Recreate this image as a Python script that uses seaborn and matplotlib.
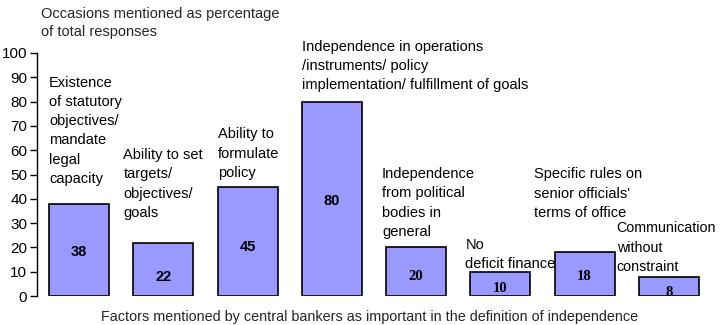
import matplotlib
matplotlib.use("Agg")
import matplotlib.pyplot as plt
import seaborn as sns
import pandas as pd

categories = [
    "Existence\nof statutory\nobjectives/\nmandate\nlegal\ncapacity",
    "Ability to set\ntargets/\nobjectives/\ngoals",
    "Ability to\nformulate\npolicy",
    "Independence in operations\n/instruments/ policy\nimplementation/ fulfillment of goals",
    "Independence\nfrom political\nbodies in\ngeneral",
    "No\ndeficit finance",
    "Specific rules on\nsenior officials'\nterms of office",
    "Communication\nwithout\nconstraint",
]
values = [38, 22, 45, 80, 20, 10, 18, 8]
yticks = [0, 10, 20, 30, 40, 50, 60, 70, 80, 90, 100]

# styling / placement of annotations (not data)
label_dx = [0.0, -0.12, 0.0, 0.0, -0.05, -0.06, -0.25, -0.265]
label_y = [46.5, 32.5, 49, 85, 24.7, 11.5, 32.5, 10.3]
value_y = [18, 7.8, 20, 39, 8, 3, 8, 1.6]
value_font = ["Liberation Sans"] * 4 + ["Liberation Serif"] * 4

sns.set_theme(style="white")
plt.rcParams["font.family"] = ["Liberation Sans", "DejaVu Sans"]

df = pd.DataFrame({"cat": range(len(values)), "val": values})

fig = plt.figure(figsize=(7.21, 3.25), dpi=100)
ax = fig.add_axes([37 / 721, 29 / 325, 674 / 721, 243 / 325])
sns.barplot(data=df, x="cat", y="val", color="#9999FF", saturation=1,
            edgecolor="black", linewidth=1.2, width=0.71, ax=ax)
for p in ax.patches:
    p.set_facecolor("#9999FF")

ax.set_xlim(-0.5, 7.5)
ax.set_ylim(0, 100)
ax.set_yticks(yticks)
ax.set_yticklabels([str(t) for t in yticks], fontsize=11, color="black")
ax.set_xticks([])
ax.set_xlabel("")
ax.set_ylabel("")
for s in ["top", "right", "bottom"]:
    ax.spines[s].set_visible(False)
ax.spines["left"].set_color("black")
ax.spines["left"].set_linewidth(1.0)
ax.tick_params(axis="y", left=True, length=5, width=1, color="black", pad=2)

for i, (c, v) in enumerate(zip(categories, values)):
    ax.text(i - 0.355 + label_dx[i], label_y[i], c, ha="left", va="baseline",
            fontsize=10.5 if i < 7 else 10.3, linespacing=1.48, color="black")
    ax.text(i, value_y[i], str(v), ha="center", va="center", fontsize=10.5,
            fontweight="bold", family=value_font[i], color="black")

fig.text(41 / 721, 1 - 23 / 325, "Occasions mentioned as percentage\nof total responses",
         ha="left", va="center", fontsize=10.5, linespacing=1.4)
fig.text(370 / 721, 1 - 317 / 325,
         "Factors mentioned by central bankers as important in the definition of independence",
         ha="center", va="center", fontsize=10.4)

fig.savefig("out.png", dpi=100)
